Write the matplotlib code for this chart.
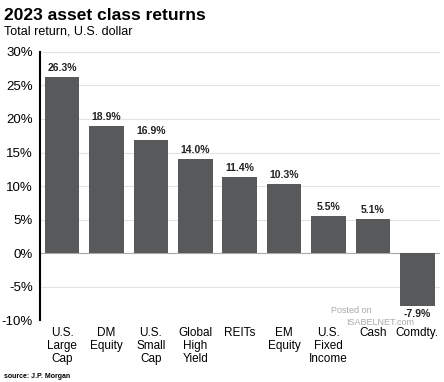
import matplotlib.pyplot as plt
from matplotlib.ticker import FuncFormatter

categories = ['U.S.\nLarge\nCap', 'DM\nEquity', 'U.S.\nSmall\nCap', 'Global\nHigh\nYield',
              'REITs', 'EM\nEquity', 'U.S.\nFixed\nIncome', 'Cash', 'Comdty.']
returns = [26.3, 18.9, 16.9, 14.0, 11.4, 10.3, 5.5, 5.1, -7.9]
yticks = [-10, -5, 0, 5, 10, 15, 20, 25, 30]

plt.rcParams['font.family'] = ['Liberation Sans', 'DejaVu Sans']

fig = plt.figure(figsize=(4.44, 3.82), dpi=100)
ax = fig.add_axes([0.09, 0.162, 0.9, 0.702])

x = range(len(categories))
ax.bar(x, returns, width=0.78, color='#58595b', zorder=3)
for i, v in enumerate(returns):
    off = 0.6 if v >= 0 else -0.5
    ax.text(i, v + off, f'{v:.1f}%', ha='center', va='bottom' if v >= 0 else 'top',
            fontsize=7.5, fontweight='bold', color='#222222', zorder=4)

ax.set_xlim(-0.5, len(categories) - 0.5)
ax.set_ylim(-10, 30)
ax.set_yticks(yticks)
ax.yaxis.set_major_formatter(FuncFormatter(lambda v, p: f'{v:.0f}%'))
ax.grid(axis='y', color='#e2e2e2', linewidth=0.8, zorder=0)
ax.axhline(0, color='#aaaaaa', linewidth=0.8, zorder=2)
for s in ['top', 'right', 'bottom']:
    ax.spines[s].set_visible(False)
ax.spines['left'].set_linewidth(1.5)
ax.tick_params(axis='y', length=0, labelsize=9.5, pad=5)
ax.set_xticks(list(x))
ax.set_xticklabels(categories, fontsize=8.5, linespacing=1.1)
ax.tick_params(axis='x', length=0, pad=5)

fig.text(0.01, 0.96, '2023 asset class returns', fontsize=12.5, fontweight='bold', va='center')
fig.text(0.01, 0.917, 'Total return, U.S. dollar', fontsize=9, va='center')
fig.text(0.01, 0.005, 'source: J.P. Morgan', fontsize=5, fontweight='bold', va='bottom')
fig.text(0.745, 0.188, 'Posted on', fontsize=6.5, color='#aaaaaa', va='center')
fig.text(0.78, 0.155, 'ISABELNET.com', fontsize=6.5, color='#aaaaaa', va='center')

fig.savefig('out.png', dpi=100)
